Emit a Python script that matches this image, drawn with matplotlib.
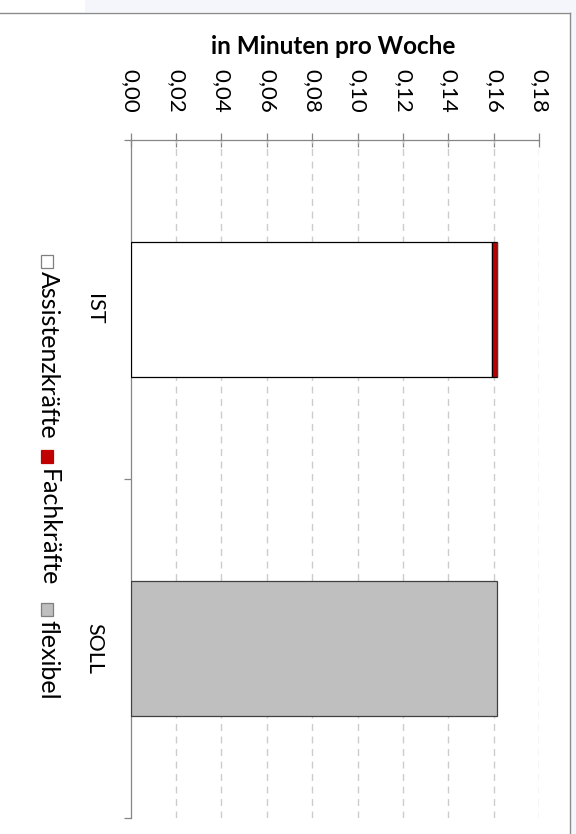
import matplotlib
matplotlib.use("Agg")
import matplotlib.pyplot as plt
from matplotlib.patches import Rectangle
from matplotlib.lines import Line2D

# ---- data ----
categories = ["IST", "SOLL"]
series_names = ["Assistenzkräfte", "Fachkräfte", "flexibel"]
assistenz = [0.159, 0.0]
fach = [0.0025, 0.0]
flexibel = [0.0, 0.1615]
tick_values = [0.00, 0.02, 0.04, 0.06, 0.08, 0.10, 0.12, 0.14, 0.16, 0.18]
tick_labels = ["0,00", "0,02", "0,04", "0,06", "0,08", "0,10", "0,12", "0,14", "0,16", "0,18"]
axis_title = "in Minuten pro Woche"

colors = ["#ffffff", "#c00000", "#bfbfbf"]
edge_colors = ["#000000", "#000000", "#404040"]

plt.rcParams['font.family'] = ['Lato', 'DejaVu Sans']
plt.rcParams['lines.scale_dashes'] = False

W, H = 576, 834
fig = plt.figure(figsize=(W / 100, H / 100), dpi=100)
fig.patch.set_facecolor("white")

def fx(px):
    return px / W

def fy(py):
    return 1 - py / H

# screenshot frame
fig.patches.append(Rectangle((fx(85), fy(12)), fx(576) - fx(85), 12 / H,
                             transform=fig.transFigure, facecolor="#f4f6fb", edgecolor="none", zorder=0))
fig.patches.append(Rectangle((fx(570), 0), 6 / W, fy(12),
                             transform=fig.transFigure, facecolor="#f4f6fb", edgecolor="none", zorder=0))
fig.lines.append(Line2D([0, fx(569.5)], [fy(12.5), fy(12.5)], transform=fig.transFigure,
                        color="#8c8c8c", lw=1.0))
fig.lines.append(Line2D([fx(569.5), fx(569.5)], [fy(12.5), 0], transform=fig.transFigure,
                        color="#8c8c8c", lw=1.0))

left, right = 130.7, 539.3
top, bottom = 140, 818
ax = fig.add_axes([fx(left), fy(bottom), fx(right) - fx(left), (bottom - top) / H])
ax.set_facecolor("none")

y = list(range(len(categories)))
bh = 0.40
lefts = [0.0] * len(categories)
for vals, c, ec, name in zip([assistenz, fach, flexibel], colors, edge_colors, series_names):
    ax.barh(y, vals, height=bh, left=lefts, color=c, edgecolor=ec, linewidth=0.9,
            label=name, zorder=3)
    lefts = [a + b for a, b in zip(lefts, vals)]

ax.set_xlim(0, 0.18)
ax.set_ylim(len(categories) - 0.5, -0.5)

ax.xaxis.tick_top()
ax.set_xticks(tick_values)
ax.set_xticklabels(tick_labels, rotation=-90, va="bottom", ha="center", fontsize=16)
ax.tick_params(axis="x", direction="inout", length=10, width=0.9, color="#868686", pad=14.4)

ax.set_yticks(y)
ax.set_yticklabels(categories, rotation=-90, va="center", ha="right", fontsize=15.5)
ax.tick_params(axis="y", which="major", length=0, pad=19)
ax.set_yticks([i - 0.5 for i in range(len(categories) + 1)], minor=True)
ax.tick_params(axis="y", which="minor", direction="out", length=5, width=0.9, color="#868686")

for s in ["right", "bottom"]:
    ax.spines[s].set_visible(False)
for s in ["top", "left"]:
    ax.spines[s].set_color("#868686")
    ax.spines[s].set_linewidth(0.9)

ax.set_axisbelow(True)
for v in tick_values[1:]:
    ax.axvline(v, color="#cccccc", lw=1.0, linestyle=(0, (5, 4)), zorder=1)

fig.text(fx(333), fy(47), axis_title, ha="center", va="center", fontsize=17.5, fontweight="bold")

# legend (rotated, drawn manually)
leg_x = 47
entries = [(255, 271), (450, 469), (603, 620)]
for (box_y, text_y), name, c, ec in zip(entries, series_names, colors, ["#7f7f7f", "#c00000", "#7f7f7f"]):
    fig.patches.append(Rectangle((fx(leg_x - 6), fy(box_y + 13)), 12 / W, 13 / H,
                                 transform=fig.transFigure, facecolor=c, edgecolor=ec, lw=0.9))
    fig.text(fx(leg_x + 1), fy(text_y), name, rotation=-90, ha="center", va="top", fontsize=18)

fig.savefig("out.png", dpi=100)
